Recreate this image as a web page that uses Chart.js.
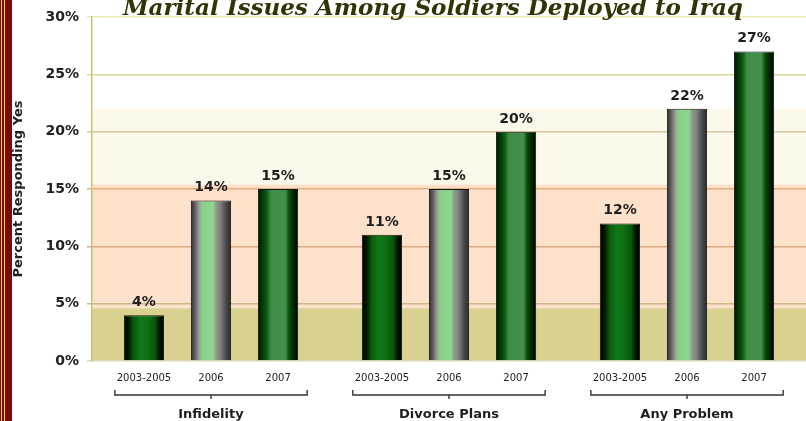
<!DOCTYPE html>
<html><head><meta charset="utf-8">
<script src="https://cdn.jsdelivr.net/npm/chart.js@4.4.1/dist/chart.umd.min.js"></script>
<style>html,body{margin:0;padding:0;background:#fff;overflow:hidden}</style>
</head><body>
<canvas id="c" width="806" height="421" style="display:block;width:806px;height:421px"></canvas>
<script>
const categories = ['Infidelity', 'Divorce Plans', 'Any Problem'];
const periods = ['2003-2005', '2006', '2007'];
const values2003to2005 = [4, 11, 12];
const values2006 = [14, 15, 22];
const values2007 = [15, 20, 27];
const yTicks = [0, 5, 10, 15, 20, 25, 30];
const titleText = 'Marital Issues Among Soldiers Deployed to Iraq';
const yAxisTitle = 'Percent Responding Yes';

const seriesValues = [values2003to2005, values2006, values2007];

const gradientStops = [
  [[0,'#000'],[0.12,'#021a02'],[0.24,'#0a5a0a'],[0.42,'#10781a'],[0.6,'#0e7014'],[0.78,'#0a560a'],[0.9,'#010f01'],[1,'#000']],
  [[0,'#2e2e2e'],[0.1,'#5e5e5e'],[0.2,'#9a9a9a'],[0.28,'#88d088'],[0.55,'#8fd590'],[0.63,'#8c9a8c'],[0.72,'#858585'],[0.88,'#474747'],[1,'#2a2a2a']],
  [[0,'#001400'],[0.1,'#003800'],[0.22,'#0d5a12'],[0.32,'#3f8c46'],[0.68,'#43904b'],[0.78,'#0a4a0a'],[0.9,'#002200'],[1,'#000']]
];

const gridColors = {0:'#dcd8b4',5:'#cdb789',10:'#d8ab84',15:'#e6af7b',20:'#d6c6a6',25:'#dcd896',30:'#ecebb4'};

const decor = {
  id: 'decor',
  beforeDraw(chart) {
    const {ctx, chartArea: a, scales: {y}} = chart;
    ctx.save();
    ctx.fillStyle = '#fff';
    ctx.fillRect(0, 0, chart.width, chart.height);
    const band = (v1, v2, color) => {
      const t = y.getPixelForValue(v1), b = y.getPixelForValue(v2);
      ctx.fillStyle = color;
      ctx.fillRect(a.left, t, a.right - a.left, b - t);
    };
    band(30, 22, '#ffffff');
    band(22, 15.4, '#fdf9ea');
    band(15.4, 4.6, '#fde1ca');
    band(4.6, 0, '#d8d18f');
    ctx.fillStyle = '#7a0b0b';
    ctx.fillRect(0, 0, 12, chart.height);
    ctx.fillStyle = '#f0d46a';
    ctx.fillRect(1, 0, 1, chart.height);
    ctx.fillRect(4, 0, 1, chart.height);
    ctx.restore();
  },
  beforeDatasetsDraw(chart) {
    const ctx = chart.ctx;
    chart.data.datasets.forEach((ds, di) => {
      const meta = chart.getDatasetMeta(di);
      meta.data.forEach(el => {
        const g = ctx.createLinearGradient(el.x - el.width / 2, 0, el.x + el.width / 2, 0);
        gradientStops[di].forEach(([o, c]) => g.addColorStop(o, c));
        el.options.backgroundColor = g;
      });
    });
  },
  afterDatasetsDraw(chart) {
    const {ctx, scales: {x}, chartArea: a} = chart;
    ctx.save();
    ctx.textAlign = 'center';
    chart.data.datasets.forEach((ds, di) => {
      const meta = chart.getDatasetMeta(di);
      meta.data.forEach((el, i) => {
        ctx.fillStyle = '#1e1e1e';
        ctx.font = 'bold 14px "DejaVu Sans"';
        ctx.textBaseline = 'alphabetic';
        ctx.fillText(ds.data[i] + '%', el.x, el.y - 9);
        ctx.fillStyle = '#1e1e1e';
        ctx.font = '10px "DejaVu Sans"';
        ctx.textBaseline = 'middle';
        ctx.fillText(periods[di], el.x, a.bottom + 17);
      });
    });
    const cw = (x.right - x.left) / categories.length;
    ctx.strokeStyle = '#333';
    ctx.lineWidth = 1.4;
    categories.forEach((c, i) => {
      const cx = x.getPixelForValue(i);
      const half = cw * 0.404;
      const by = a.bottom + 34;
      ctx.beginPath();
      ctx.moveTo(cx - half, by - 5);
      ctx.lineTo(cx - half, by);
      ctx.lineTo(cx + half, by);
      ctx.lineTo(cx + half, by - 5);
      ctx.moveTo(cx, by);
      ctx.lineTo(cx, by + 4);
      ctx.stroke();
      ctx.fillStyle = '#1e1e1e';
      ctx.font = 'bold 13px "DejaVu Sans"';
      ctx.textBaseline = 'alphabetic';
      ctx.fillText(c, cx, a.bottom + 57);
    });
    ctx.restore();
  },
  afterDraw(chart) {
    const ctx = chart.ctx;
    ctx.save();
    ctx.font = 'italic bold 24px "DejaVu Serif"';
    const w = ctx.measureText(titleText).width;
    const size = 24 * 620 / w;
    ctx.font = 'italic bold ' + size.toFixed(2) + 'px "DejaVu Serif"';
    ctx.fillStyle = '#333306';
    ctx.textAlign = 'left';
    ctx.textBaseline = 'alphabetic';
    ctx.fillText(titleText, 123, 15);
    ctx.restore();
  }
};

new Chart(document.getElementById('c'), {
  type: 'bar',
  data: {
    labels: categories,
    datasets: seriesValues.map((vals, di) => ({
      label: periods[di],
      data: vals,
      backgroundColor: () => '#0a5a0a',
      borderColor: '#161616',
      borderWidth: 1,
      categoryPercentage: 0.845,
      barPercentage: 0.6
    }))
  },
  options: {
    responsive: false,
    animation: false,
    devicePixelRatio: 1,
    layout: { padding: { top: 17, right: 0, bottom: 60, left: 0 } },
    plugins: { legend: { display: false }, title: { display: false }, tooltip: { enabled: false } },
    scales: {
      x: { display: false, offset: true },
      y: {
        min: 0, max: 30,
        afterFit(s) { s.width = 92; },
        afterBuildTicks(s) { s.ticks = yTicks.map(v => ({ value: v })); },
        ticks: { padding: 8, color: '#222', font: { family: 'DejaVu Sans', weight: 'bold', size: 14 }, callback: v => v + '%' },
        grid: { color: c => gridColors[c.tick.value] || '#ccc', lineWidth: 1.5, tickLength: 5, drawTicks: true },
        border: { display: true, color: '#c9c272', width: 1.5 },
        title: { display: true, text: yAxisTitle, color: '#222', font: { family: 'DejaVu Sans', weight: 'bold', size: 13 }, padding: { top: 11, bottom: 0 } }
      }
    }
  },
  plugins: [decor]
});
</script>
</body></html>
